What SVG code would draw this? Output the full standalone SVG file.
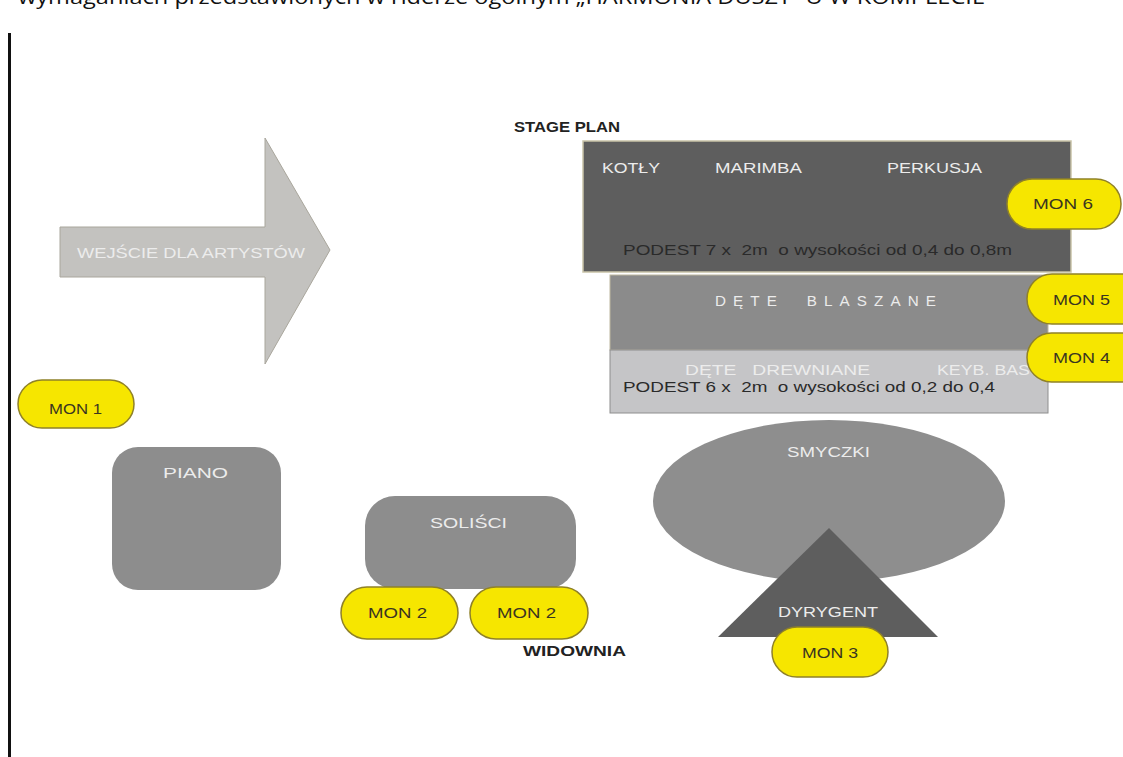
<svg xmlns="http://www.w3.org/2000/svg" width="1123" height="757" viewBox="0 0 1123 757">
<style>
.lbl{font-family:"Liberation Sans",Arial,sans-serif;font-size:15px;fill:#ececec}
.dark{font-family:"Liberation Sans",Arial,sans-serif;font-size:15px;fill:#2a2a2a}
.mon{fill:#f6e600;stroke:#8f8128;stroke-width:1.5}
.mont{font-family:"Liberation Sans",Arial,sans-serif;font-size:15px;fill:#3a3520}
.bold{font-family:"Liberation Sans",Arial,sans-serif;font-size:14px;font-weight:bold;fill:#222}
</style>
<rect width="1123" height="757" fill="#ffffff"/>
<text x="18" y="4" font-family="Open Sans,Liberation Sans,sans-serif" font-size="20" fill="#111" textLength="967" lengthAdjust="spacingAndGlyphs">wymaganiach przedstawionych w riderze ogólnym „HARMONIA DUSZY” U W KOMPLECIE</text>
<rect x="8" y="33" width="3" height="724" fill="#111"/>
<text class="bold" x="514" y="132" textLength="106" lengthAdjust="spacingAndGlyphs">STAGE PLAN</text>
<text class="bold" x="523" y="656" textLength="103" lengthAdjust="spacingAndGlyphs">WIDOWNIA</text>

<g id="arrow">
<polygon points="60,227 265,227 265,138 330,250 265,364 265,277 60,277" fill="#c3c2bf" stroke="#a9a69c" stroke-width="1"/>
<text class="lbl" x="77" y="258" textLength="228" lengthAdjust="spacingAndGlyphs">WEJŚCIE DLA ARTYSTÓW</text>
</g>

<g id="podest7">
<rect x="583" y="141" width="488" height="131" fill="#5e5e5e" stroke="#c9c3a8" stroke-width="1.5"/>
<text class="lbl" x="602" y="173" textLength="58" lengthAdjust="spacingAndGlyphs">KOTŁY</text>
<text class="lbl" x="715" y="173" textLength="87" lengthAdjust="spacingAndGlyphs">MARIMBA</text>
<text class="lbl" x="887" y="173" textLength="95" lengthAdjust="spacingAndGlyphs">PERKUSJA</text>
<text class="dark" x="623" y="255" xml:space="preserve" textLength="389" lengthAdjust="spacingAndGlyphs">PODEST 7 x  2m  o wysokości od 0,4 do 0,8m</text>
</g>

<g id="blaszane">
<rect x="610" y="275" width="438" height="75" fill="#8b8b8b" stroke="#bdb7a0" stroke-width="1"/>
<text class="lbl" x="715" y="306" xml:space="preserve" letter-spacing="7" textLength="228" lengthAdjust="spacingAndGlyphs">DĘTE  BLASZANE</text>
</g>

<g id="podest6">
<rect x="610" y="350" width="438" height="63" fill="#c5c5c7" stroke="#8e8e8e" stroke-width="1"/>
<text class="lbl" x="685" y="375" fill="#f0f0f0" xml:space="preserve" textLength="185" lengthAdjust="spacingAndGlyphs">DĘTE   DREWNIANE</text>
<text class="lbl" x="937" y="375" textLength="93" lengthAdjust="spacingAndGlyphs">KEYB. BAS</text>
<text class="dark" x="623" y="392" xml:space="preserve" textLength="372" lengthAdjust="spacingAndGlyphs">PODEST 6 x  2m  o wysokości od 0,2 do 0,4</text>
</g>

<g id="piano">
<rect x="112" y="447" width="169" height="143" rx="26" fill="#8d8d8d"/>
<text class="lbl" x="163" y="478" textLength="65" lengthAdjust="spacingAndGlyphs">PIANO</text>
</g>

<g id="solisci">
<rect x="365" y="496" width="211" height="93" rx="30" fill="#8d8d8d"/>
<text class="lbl" x="430" y="528" textLength="77" lengthAdjust="spacingAndGlyphs">SOLIŚCI</text>
</g>

<g id="smyczki">
<ellipse cx="829" cy="501" rx="176" ry="81" fill="#8e8e8e"/>
<text class="lbl" x="787" y="457" textLength="83" lengthAdjust="spacingAndGlyphs">SMYCZKI</text>
</g>

<g id="dyrygent">
<polygon points="829,528 938,637 718,637" fill="#5e5e5e"/>
<text class="lbl" x="778" y="617" textLength="100" lengthAdjust="spacingAndGlyphs">DYRYGENT</text>
</g>

<g id="mon1"><rect class="mon" x="18" y="380" width="116" height="48" rx="24"/><text class="mont" x="49" y="414" textLength="53" lengthAdjust="spacingAndGlyphs">MON 1</text></g>
<g id="mon2a"><rect class="mon" x="341" y="587" width="117" height="52" rx="26"/><text class="mont" x="368" y="618" textLength="59" lengthAdjust="spacingAndGlyphs">MON 2</text></g>
<g id="mon2b"><rect class="mon" x="470" y="587" width="118" height="52" rx="26"/><text class="mont" x="497" y="618" textLength="59" lengthAdjust="spacingAndGlyphs">MON 2</text></g>
<g id="mon3"><rect class="mon" x="772" y="627" width="116" height="50" rx="25"/><text class="mont" x="802" y="658" textLength="56" lengthAdjust="spacingAndGlyphs">MON 3</text></g>
<g id="mon4"><rect class="mon" x="1027" y="333" width="120" height="49" rx="24.5"/><text class="mont" x="1053" y="363" textLength="57" lengthAdjust="spacingAndGlyphs">MON 4</text></g>
<g id="mon5"><rect class="mon" x="1027" y="274" width="120" height="50" rx="25"/><text class="mont" x="1053" y="305" textLength="57" lengthAdjust="spacingAndGlyphs">MON 5</text></g>
<g id="mon6"><rect class="mon" x="1007" y="179" width="114" height="50" rx="25"/><text class="mont" x="1033" y="209" textLength="60" lengthAdjust="spacingAndGlyphs">MON 6</text></g>
</svg>
